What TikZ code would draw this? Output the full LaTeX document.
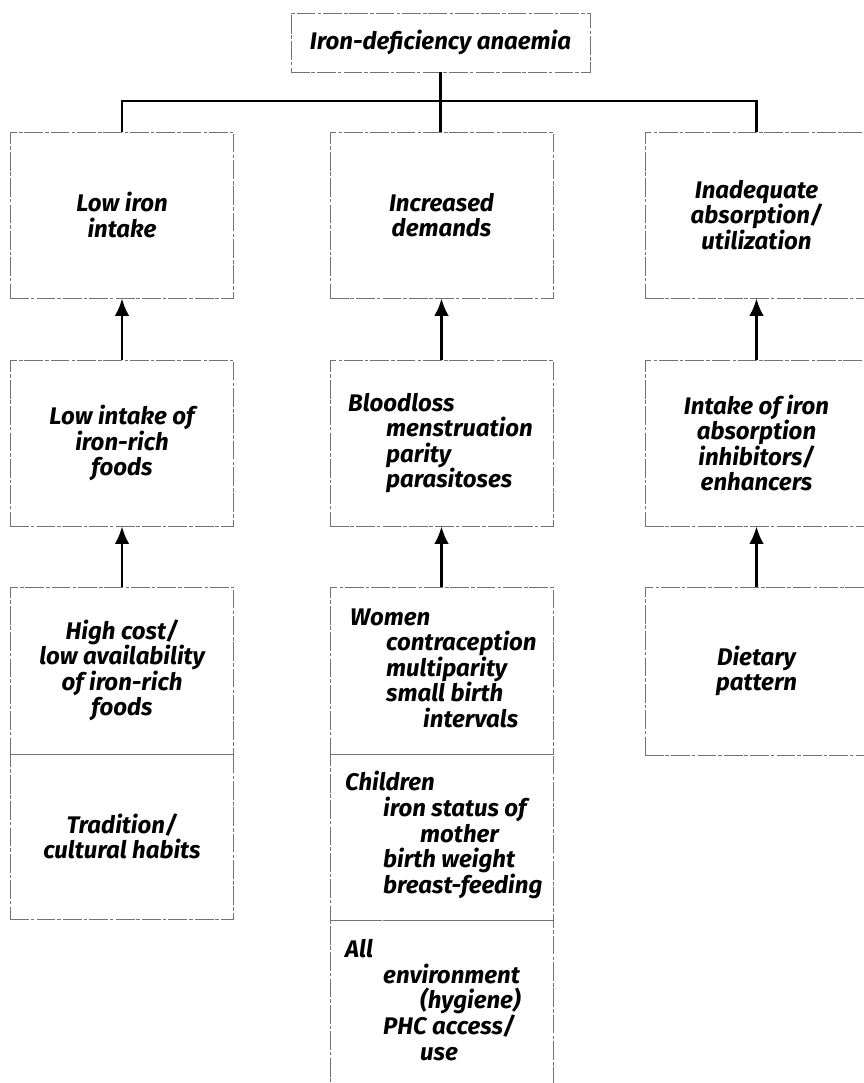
\documentclass[tikz,border=0pt]{standalone}
\usepackage{fontspec}
\setmainfont{Fira Sans}
\usetikzlibrary{arrows.meta}
\newlength\pxu
\setlength\pxu{0.03cm}
\newcommand\myind[1]{\hspace*{#1\pxu}}
\tikzset{
  lbl/.style={font=\bfseries\itshape\fontsize{20.5}{21.8}\selectfont},
  box/.style={lbl, draw=black!55, line width=0.5pt,
    dash pattern=on 16pt off 1.5pt on 3pt off 2pt,
    inner sep=0pt, align=center, minimum width=6.7cm},
  txt/.style={lbl, inner sep=0pt, align=left, anchor=west},
  conn/.style={line width=2.2pt, black},
  arr/.style={line width=2.4pt, black, -{Latex[length=15pt,width=12.5pt]}}
}
\begin{document}
\begin{tikzpicture}[x=0.03cm, y=-0.03cm]
\useasboundingbox (0,0) rectangle (864,1083);
\clip (0,0) rectangle (864,1083);
% top
\node[box, minimum width=8.97cm, minimum height=1.77cm] (ida) at (440.5,42.5) {Iron-deficiency anaemia};
% row 1
\node[box, minimum height=4.98cm] (low) at (122,215) {Low iron\\intake};
\node[box, minimum height=4.98cm] (inc) at (441.5,215) {Increased\\demands};
\node[box, minimum height=4.98cm] (inad) at (756.5,215) {Inadequate\\absorption/\\utilization};
% row 2
\node[box, minimum height=4.98cm] (lowfood) at (122,443) {Low intake of\\iron-rich\\foods};
\node[box, minimum height=4.98cm] (blood) at (441.5,443) {};
\node[box, minimum height=4.98cm] (inh) at (756.5,443) {Intake of iron\\absorption\\inhibitors/\\enhancers};
% row 3
\node[box, minimum height=5.01cm] (cost) at (122,670.5) {High cost/\\low availability\\of iron-rich\\foods};
\node[box, minimum height=4.95cm] (trad) at (122,836.5) {Tradition/\\cultural habits};
\node[box, minimum height=5.01cm] (women) at (441.5,670.5) {};
\node[box, minimum height=4.98cm] (child) at (441.5,837) {};
\node[box, minimum height=5.4cm] (all) at (441.5,1010) {};
\node[box, minimum height=5.04cm] (diet) at (756.5,671) {Dietary\\pattern};
% left aligned texts
\node[txt] (bloodtxt) at (348,443) {Bloodloss\\\myind{38}menstruation\\\myind{38}parity\\\myind{38}parasitoses};
\node[txt] (womentxt) at (350,668) {Women\\\myind{36}contraception\\\myind{36}multiparity\\\myind{36}small birth\\\myind{73}intervals};
\node[txt] (childtxt) at (345,835) {Children\\\myind{38}iron status of\\\myind{75}mother\\\myind{38}birth weight\\\myind{38}breast-feeding};
\node[txt] (alltxt) at (345,1000) {All\\\myind{38}environment\\\myind{75}(hygiene)\\\myind{38}PHC access/\\\myind{75}use};
% connectors
\coordinate (bar) at (440,101);
\draw[conn] (ida.south) -- (ida.south |- inc.north);
\draw[conn] (low.north) |- (bar) -| (inad.north);
\draw[arr] (lowfood.north) -- (low.south);
\draw[arr] (blood.north) -- (inc.south);
\draw[arr] (inh.north) -- (inad.south);
\draw[arr] (cost.north) -- (lowfood.south);
\draw[arr] (women.north) -- (blood.south);
\draw[arr] (diet.north) -- (inh.south);
\end{tikzpicture}
\end{document}
